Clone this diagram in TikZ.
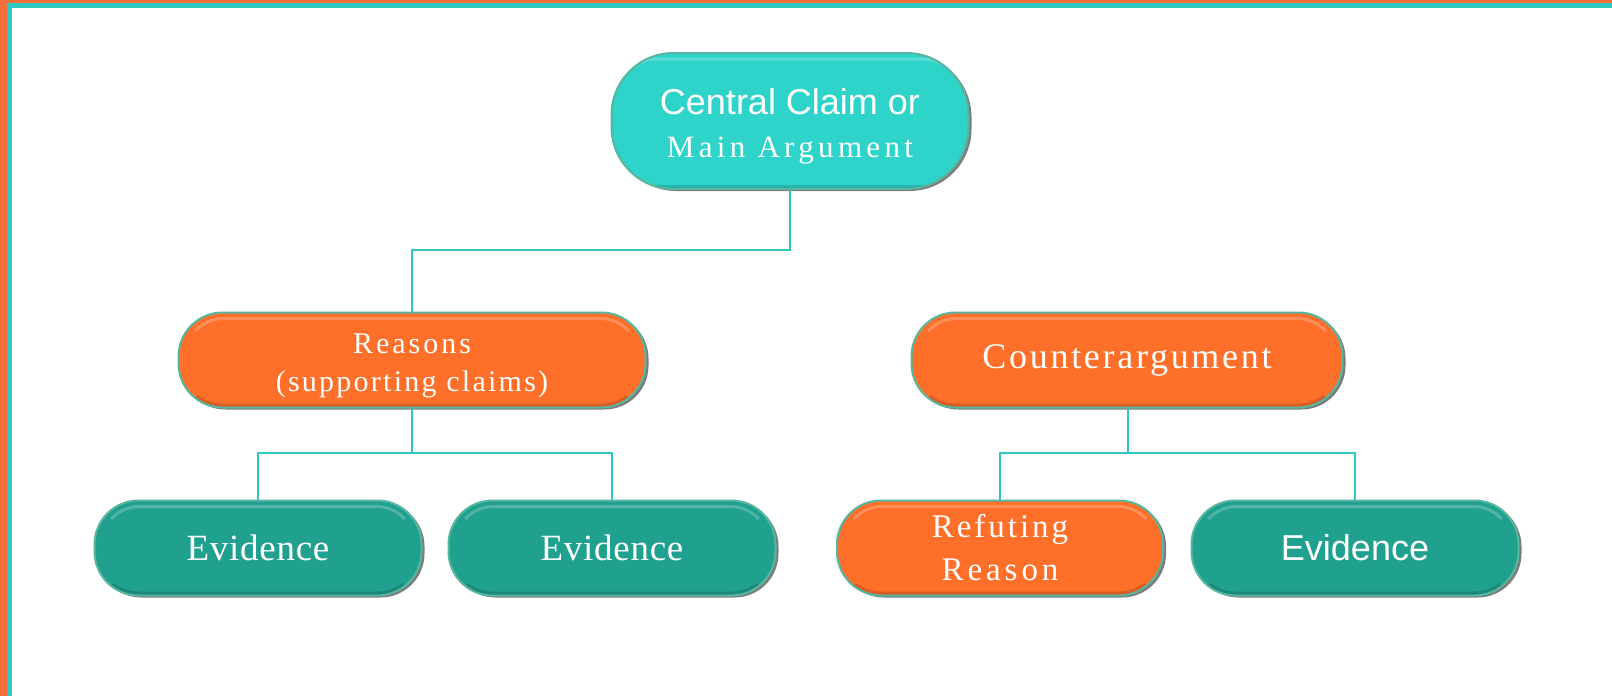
\documentclass[tikz,border=0pt]{standalone}
\usepackage{fontspec}
\setmainfont{Liberation Serif}
\newfontfamily\sansA{Liberation Sans}
\usetikzlibrary{shadows}
\definecolor{frameor}{RGB}{244,112,56}
\definecolor{frametl}{RGB}{45,201,194}
\definecolor{cteal}{RGB}{46,211,201}
\definecolor{dteal}{RGB}{32,161,143}
\definecolor{orng}{RGB}{254,111,42}
\definecolor{edgec}{RGB}{88,182,160}
\definecolor{connc}{RGB}{46,200,192}
\newcommand\tx[3]{{\fontsize{#1}{43}\selectfont\addfontfeature{LetterSpace=#2}#3}}
\newcommand\sx[2]{{\sansA\fontsize{#1}{43}\selectfont #2}}
\tikzset{
  pill/.style={rectangle, rounded corners=44pt, minimum height=95pt, text=white,
    draw=edgec, line width=2pt, inner sep=0pt, align=center,
    font=\fontsize{36}{43}\selectfont,
    drop shadow={shadow xshift=3pt, shadow yshift=-2pt, opacity=.6, fill=black!85},
    path picture={
      \begin{scope}
        \clip (path picture bounding box.north west) rectangle ([yshift=-28pt]path picture bounding box.north east);
        \draw[white,opacity=.22,line width=3pt,rounded corners=38pt]
          ([xshift=7pt,yshift=-6pt]path picture bounding box.north west) rectangle
          ([xshift=-7pt,yshift=6pt]path picture bounding box.south east);
      \end{scope}
      \begin{scope}
        \clip ([yshift=20pt]path picture bounding box.south west) rectangle (path picture bounding box.south east);
        \draw[black,opacity=.15,line width=4pt,rounded corners=42pt]
          ([xshift=2pt,yshift=-2pt]path picture bounding box.north west) rectangle
          ([xshift=-2pt,yshift=2pt]path picture bounding box.south east);
      \end{scope}
    }},
  conn/.style={draw=connc, line width=1.5pt}
}
\begin{document}
\begin{tikzpicture}[x=1pt,y=-1pt]
  % frame
  \fill[frameor] (0,0) rectangle (1612,696);
  \fill[frametl] (7,3) rectangle (1612,696);
  \fill[white] (12,8) rectangle (1612,696);
  \useasboundingbox (0,0) rectangle (1612,696);

  % nodes
  \node[pill, fill=cteal, minimum width=357pt, minimum height=136pt, rounded corners=62pt]
    (central) at (790,121) {\rule{0pt}{36pt}\sx{36}{Central Claim or}\\[0pt]\tx{31}{14}{Main Argument}};
  \node[pill, fill=orng, minimum width=467pt] (reasons) at (412,360)
    {\rule{0pt}{31pt}\tx{30}{10}{Reasons}\\[-5pt]\tx{30}{7.5}{(supporting claims)}};
  \node[pill, fill=orng, minimum width=431pt] (counter) at (1127,360)
    {\tx{36}{7.5}{Counterargument}};
  \node[pill, fill=dteal, minimum width=327pt] (ev1) at (258,548) {\tx{37}{2}{Evidence}};
  \node[pill, fill=dteal, minimum width=327pt] (ev2) at (612,548) {\tx{37}{2}{Evidence}};
  \node[pill, fill=orng, minimum width=326pt] (refute) at (1000,548)
    {\tx{33}{9}{Refuting}\\\tx{33}{12}{Reason}};
  \node[pill, fill=dteal, minimum width=327pt] (ev4) at (1355,548) {\sx{36}{Evidence}};

  % junctions
  \coordinate (j1) at (790,250);
  \coordinate (j2) at (412,453);
  \coordinate (j3) at (1128,453);

  % connectors
  \draw[conn] (central.south) -- (j1) -| (reasons.north);
  \draw[conn] (reasons.south) -- (j2);
  \draw[conn] (ev1.north) |- (j2) -| (ev2.north);
  \draw[conn] (counter.south -| j3) -- (j3);
  \draw[conn] (refute.north) |- (j3) -| (ev4.north);
\end{tikzpicture}
\end{document}
